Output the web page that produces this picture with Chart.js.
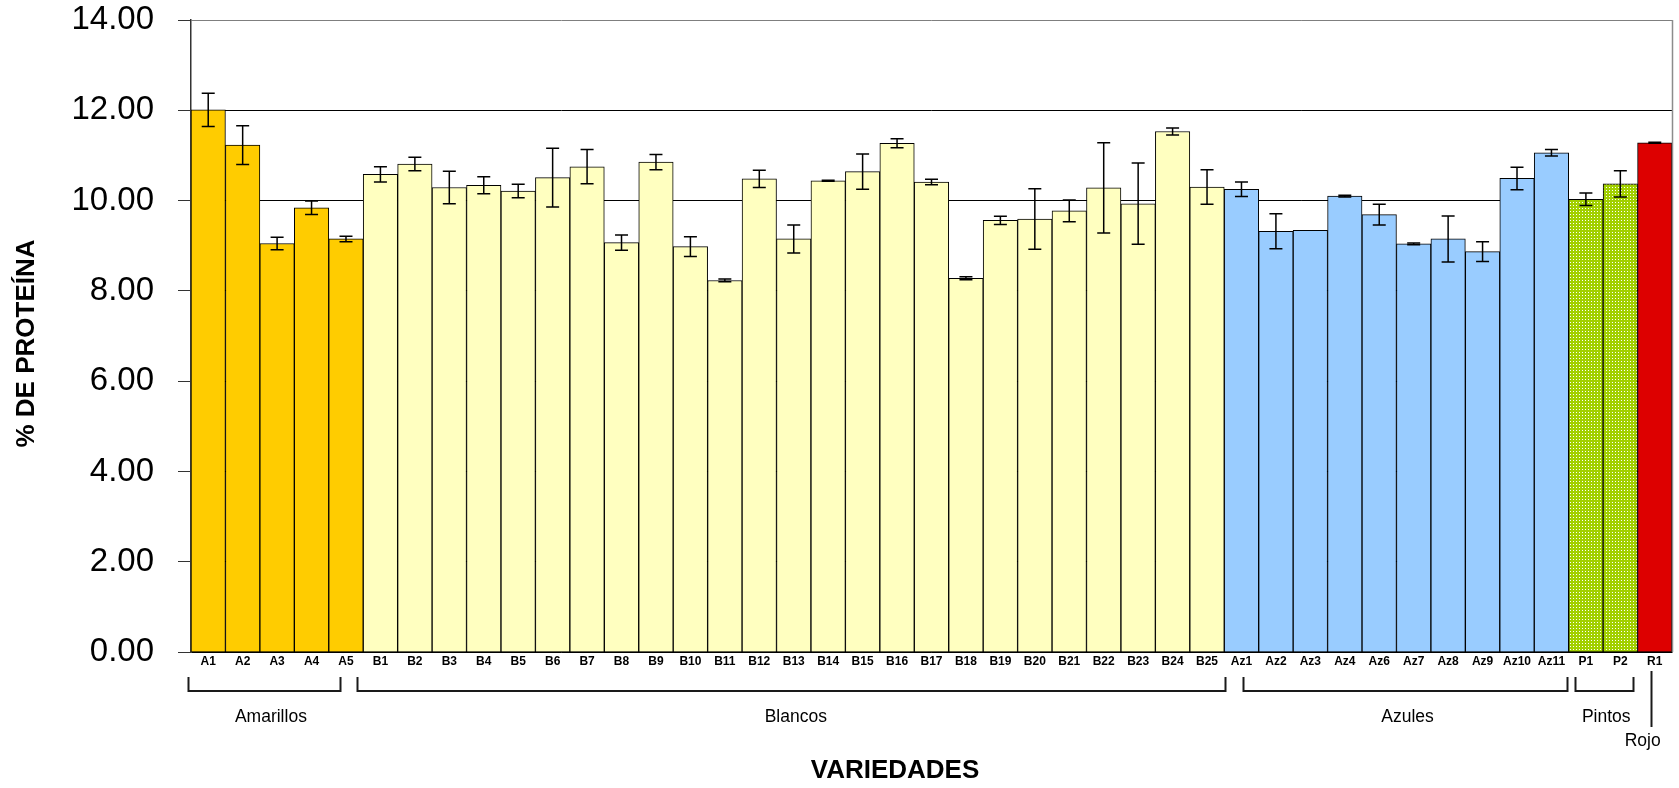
<!DOCTYPE html>
<html lang="es">
<head>
<meta charset="utf-8">
<title>% de proteína por variedad</title>
<script src="https://cdn.jsdelivr.net/npm/chart.js@4.4.1/dist/chart.umd.min.js"></script>
<style>
  html, body { margin: 0; padding: 0; background: #ffffff; }
  canvas { display: block; }
</style>
</head>
<body>
<canvas id="grafica" width="1679" height="788"></canvas>
<script>
// Variedades (eje X)
const variedades = [
  'A1','A2','A3','A4','A5',
  'B1','B2','B3','B4','B5','B6','B7','B8','B9','B10','B11','B12','B13','B14','B15',
  'B16','B17','B18','B19','B20','B21','B22','B23','B24','B25',
  'Az1','Az2','Az3','Az4','Az6','Az7','Az8','Az9','Az10','Az11',
  'P1','P2',
  'R1'
];

// % de proteína (media)
const proteina = [
  12.01, 11.23, 9.05, 9.84, 9.15,
  10.58, 10.81, 10.29, 10.34, 10.21, 10.51, 10.75, 9.07, 10.85, 8.98, 8.23, 10.48, 9.15, 10.44, 10.64,
  11.27, 10.41, 8.28, 9.56, 9.59, 9.77, 10.28, 9.93, 11.53, 10.30,
  10.25, 9.32, 9.34, 10.10, 9.69, 9.04, 9.15, 8.87, 10.49, 11.06,
  10.03, 10.37,
  11.28
];

// Desviación estándar (barras de error)
const desviacion = [
  0.37, 0.43, 0.14, 0.15, 0.06,
  0.17, 0.15, 0.36, 0.19, 0.15, 0.65, 0.38, 0.17, 0.17, 0.22, 0.03, 0.19, 0.31, 0.01, 0.39,
  0.10, 0.06, 0.035, 0.09, 0.67, 0.24, 1.00, 0.90, 0.08, 0.38,
  0.16, 0.39, 0, 0.02, 0.23, 0.02, 0.51, 0.22, 0.25, 0.07,
  0.14, 0.29,
  0.01
];

// Grupos de color del grano y cuántas variedades tiene cada uno
const grupos = ['Amarillos', 'Blancos', 'Azules', 'Pintos', 'Rojo'];
const variedadesPorGrupo = [5, 25, 10, 2, 1];

// Marcas del eje Y
const marcasY = [0, 2, 4, 6, 8, 10, 12, 14];

const FUENTE = '"Liberation Sans", Arial, Helvetica, sans-serif';

// Trama punteada verde para los pintos
function tramaPintos() {
  const c = document.createElement('canvas');
  c.width = 3; c.height = 3;
  const g = c.getContext('2d');
  g.fillStyle = '#a2d000';
  g.fillRect(0, 0, 3, 3);
  g.fillStyle = '#ffffff';
  g.fillRect(1, 1, 1, 1);
  return g.createPattern(c, 'repeat');
}

const rellenoGrupo = ['#ffcc00', '#ffffc0', '#99ccff', tramaPintos(), '#dd0000'];

// Color de cada barra según su grupo
const colores = [];
variedadesPorGrupo.forEach((n, g) => { for (let k = 0; k < n; k++) colores.push(rellenoGrupo[g]); });

// Barras de error, marco derecho, llaves de grupo y títulos de ejes
const decoracion = {
  id: 'decoracion',
  afterDatasetsDraw(chart) {
    const { ctx, chartArea } = chart;
    const x = chart.scales.x, y = chart.scales.y;
    ctx.save();

    // barras de error
    ctx.strokeStyle = '#000000';
    ctx.lineWidth = 1.5;
    proteina.forEach((v, i) => {
      const e = desviacion[i];
      if (!e) return;
      const px = x.getPixelForValue(i);
      const yt = y.getPixelForValue(v + e);
      const yb = y.getPixelForValue(v - e);
      ctx.beginPath();
      ctx.moveTo(px, yt); ctx.lineTo(px, yb);
      ctx.moveTo(px - 6.5, yt); ctx.lineTo(px + 6.5, yt);
      ctx.moveTo(px - 6.5, yb); ctx.lineTo(px + 6.5, yb);
      ctx.stroke();
    });

    // marco derecho del área de trazado
    ctx.strokeStyle = '#8c8c8c';
    ctx.lineWidth = 1.5;
    ctx.beginPath();
    ctx.moveTo(chartArea.right + 0.5, chartArea.top);
    ctx.lineTo(chartArea.right + 0.5, chartArea.bottom);
    ctx.stroke();
    ctx.restore();
  },
  afterDraw(chart) {
    const { ctx } = chart;
    const x = chart.scales.x;
    const paso = x.getPixelForValue(1) - x.getPixelForValue(0);
    const px = u => x.getPixelForValue(0) + u * paso;

    ctx.save();
    ctx.strokeStyle = '#1a1a1a';
    ctx.lineWidth = 2;
    ctx.fillStyle = '#000000';
    ctx.font = '17.5px ' + FUENTE;
    ctx.textAlign = 'center';
    ctx.textBaseline = 'middle';

    // llaves bajo cada grupo (en unidades de categoría)
    const llaves = [
      { a: -0.60, b: 3.84, t: 1.82 },
      { a: 4.31, b: 29.52, t: 17.06 },
      { a: 30.05, b: 39.44, t: 34.82 },
      { a: 39.69, b: 41.38, t: 40.59 }
    ];
    llaves.forEach((l, g) => {
      const xa = Math.round(px(l.a)) + 0.5, xb = Math.round(px(l.b)) + 0.5;
      ctx.beginPath();
      ctx.moveTo(xa, 677); ctx.lineTo(xa, 691); ctx.lineTo(xb, 691); ctx.lineTo(xb, 677);
      ctx.stroke();
      ctx.fillText(grupos[g], px(l.t), 717);
    });

    // el único rojo lleva una línea vertical
    const xr = Math.round(px(41.9)) + 0.5;
    ctx.beginPath();
    ctx.moveTo(xr, 671); ctx.lineTo(xr, 727);
    ctx.stroke();
    ctx.fillText(grupos[4], px(41.65), 741);

    // título del eje X
    ctx.font = 'bold 26px ' + FUENTE;
    ctx.fillText('VARIEDADES', 895, 771);

    // título del eje Y
    ctx.translate(27, 343.5);
    ctx.rotate(-Math.PI / 2);
    ctx.font = 'bold 26px ' + FUENTE;
    ctx.fillText('% DE PROTEÍNA', 0, 0);
    ctx.restore();
  }
};

new Chart(document.getElementById('grafica'), {
  type: 'bar',
  data: {
    labels: variedades,
    datasets: [{
      data: proteina,
      backgroundColor: colores,
      borderColor: '#000000',
      borderWidth: 1,
      borderSkipped: 'start',
      categoryPercentage: 1,
      barPercentage: 1
    }]
  },
  options: {
    responsive: false,
    animation: false,
    devicePixelRatio: 1,
    layout: { padding: { top: 20, right: 7, left: 0, bottom: 0 } },
    plugins: {
      legend: { display: false },
      tooltip: { enabled: false },
      title: { display: false }
    },
    scales: {
      x: {
        type: 'category',
        offset: true,
        grid: { display: false, drawTicks: false },
        border: { display: true, color: '#000000', width: 1.5 },
        ticks: {
          autoSkip: false,
          maxRotation: 0,
          minRotation: 0,
          padding: 2,
          color: '#000000',
          font: { family: FUENTE, size: 12, weight: 'bold' }
        },
        afterFit(s) { s.height = 136; s.paddingLeft = 0; s.paddingRight = 0; }
      },
      y: {
        min: 0,
        max: 14,
        afterBuildTicks(s) { s.ticks = marcasY.map(v => ({ value: v })); },
        grid: {
          color: c => (c.tick && c.tick.value === 14) ? '#7f7f7f' : '#000000',
          lineWidth: 1,
          drawTicks: true,
          tickLength: 13,
          tickColor: '#333333'
        },
        border: { display: true, color: '#333333', width: 1.5 },
        ticks: {
          padding: 24,
          color: '#000000',
          font: { family: FUENTE, size: 33 },
          callback: v => Number(v).toFixed(2)
        },
        afterFit(s) { s.width = 191; s.paddingTop = 0; s.paddingBottom = 0; }
      }
    }
  },
  plugins: [decoracion]
});
</script>
</body>
</html>
